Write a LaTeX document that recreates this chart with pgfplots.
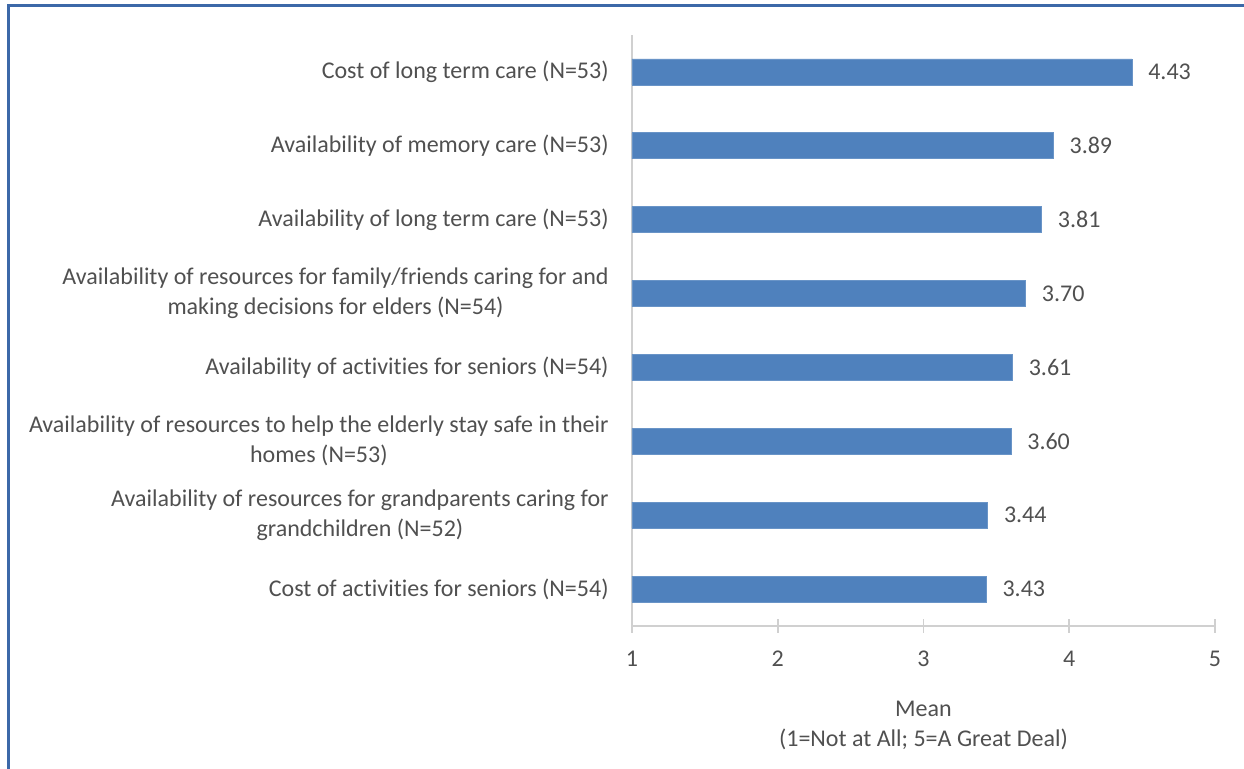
\documentclass[border=0pt]{standalone}
\usepackage{fontspec}
\setmainfont{Carlito}[Ligatures=NoCommon]
\usepackage{pgfplots}
\pgfplotsset{compat=1.18}
\definecolor{barblue}{HTML}{4F81BD}
\definecolor{framec}{HTML}{3C68A8}
\definecolor{txt}{HTML}{505050}
\definecolor{axc}{HTML}{D0D0D0}
\begin{document}
\fontsize{12}{15}\selectfont
\begin{tikzpicture}
\useasboundingbox (0,0) rectangle (622pt,384.5pt);
\draw[framec, line width=1.5pt] (4pt,0) -- (4pt,381.5pt) -- (622pt,381.5pt);
\begin{axis}[
  at={(316pt,71.5pt)}, anchor=south west,
  scale only axis, width=291.5pt, height=295.5pt,
  xbar, bar width=13pt,
  xmin=1, xmax=5, ymin=-0.5, ymax=7.5,
  axis x line*=bottom, axis y line*=left,
  axis line style={axc, line width=0.8pt},
  xtick={1,2,3,4,5},
  tick align=center, major tick length=7pt,
  tick style={axc, line width=0.8pt},
  ytick={0,...,7},
  y tick style={draw=none},
  yticklabels={
    {Cost of activities for seniors (N=54)},
    {Availability of resources for grandparents caring for\\grandchildren (N=52)},
    {Availability of resources to help the elderly stay safe in their\\homes (N=53)},
    {Availability of activities for seniors (N=54)},
    {Availability of resources for family/friends caring for and\\making decisions for elders (N=54)},
    {Availability of long term care (N=53)},
    {Availability of memory care (N=53)},
    {Cost of long term care (N=53)}},
  yticklabel style={align=center, text=txt, font=\fontsize{12}{15}\selectfont, xshift=-4pt},
  xticklabel style={text=txt, font=\fontsize{12}{15}\selectfont, yshift=-5pt},
  /pgf/number format/assume math mode=true,
  xlabel={Mean\\(1=Not at All; 5=A Great Deal)},
  xlabel style={align=center, text=txt, font=\fontsize{12}{15}\selectfont, yshift=-9pt},
  nodes near coords={\pgfmathprintnumber[fixed,fixed zerofill,precision=2,assume math mode=true]{\pgfplotspointmeta}},
  nodes near coords style={text=txt, font=\fontsize{12}{15}\selectfont, anchor=west, inner sep=0pt, xshift=8pt},
  point meta=explicit,
  clip=false,
]
\addplot[fill=barblue, draw=barblue!85!white] table[meta=m] {
x y m
3.43 0 3.43
3.44 1 3.44
3.60 2 3.60
3.61 3 3.61
3.70 4 3.70
3.81 5 3.81
3.89 6 3.89
4.43 7 4.43
};
\end{axis}
\end{tikzpicture}
\end{document}
